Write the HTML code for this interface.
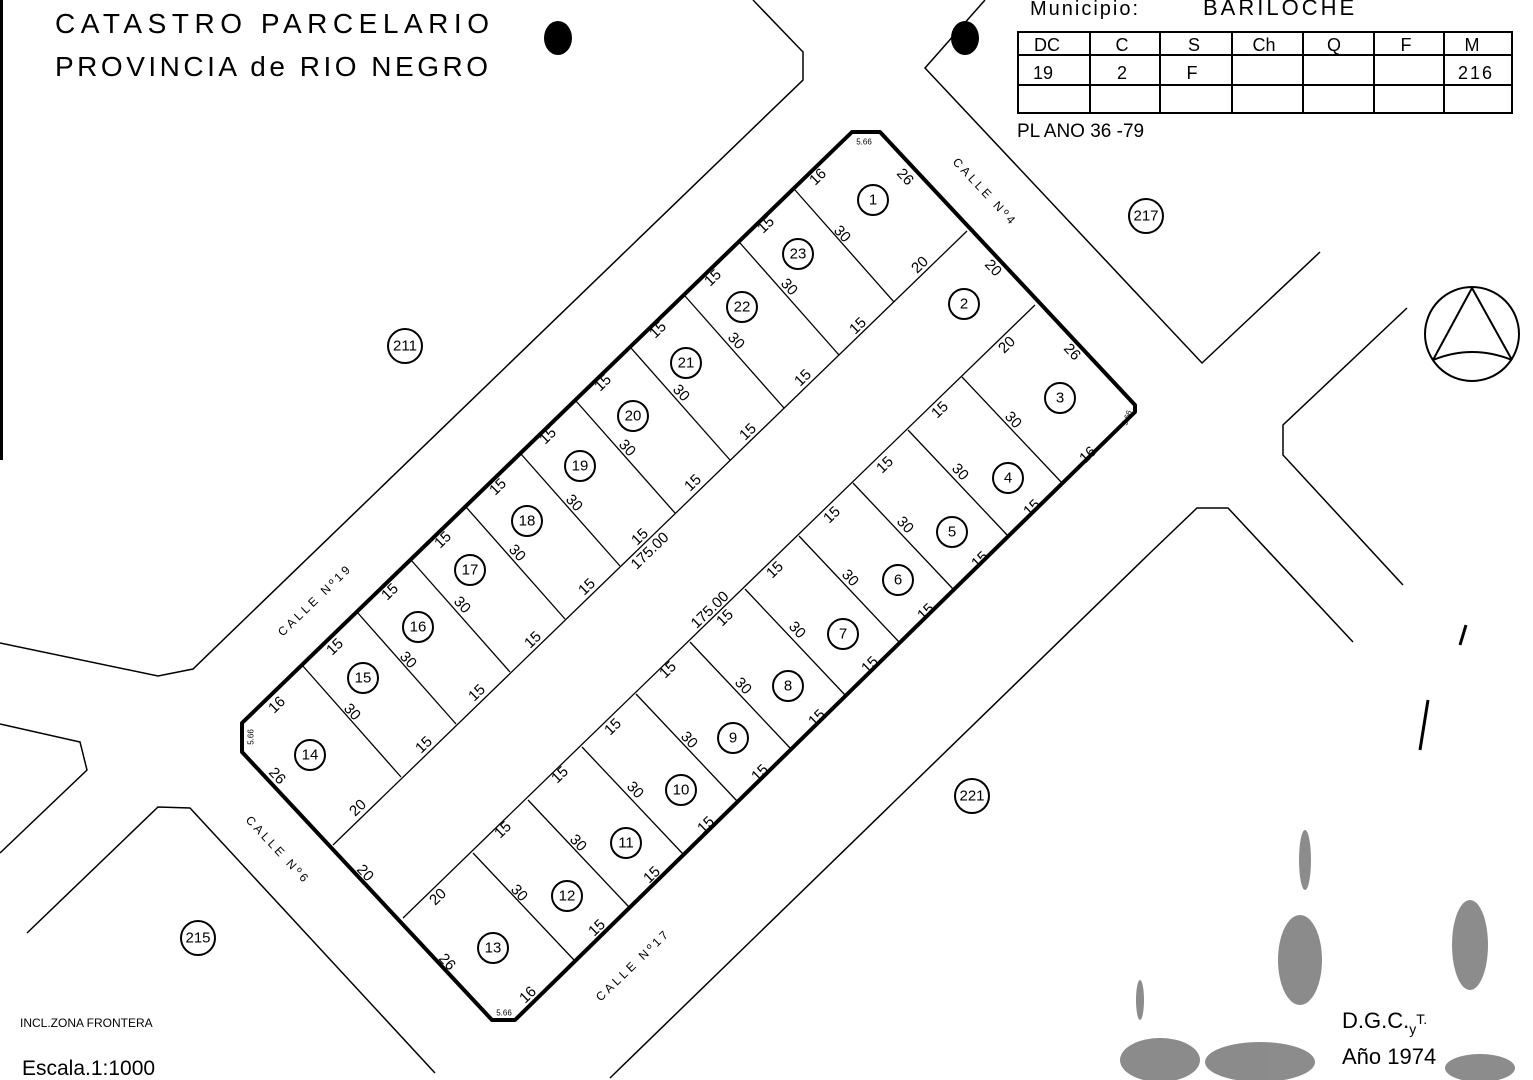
<!DOCTYPE html>
<html><head><meta charset="utf-8"><style>
html,body{margin:0;padding:0;background:#fff;}
svg{display:block;}
text{font-family:"Liberation Sans",sans-serif;fill:#000;}
.d{font-size:15px;text-anchor:middle;dominant-baseline:central;}
.n{font-size:15px;text-anchor:middle;dominant-baseline:central;}
.s{font-size:8px;text-anchor:middle;dominant-baseline:central;}
.c{font-size:12px;text-anchor:middle;dominant-baseline:central;letter-spacing:3px;}
</style></head><body>
<svg width="1533" height="1080" viewBox="0 0 1533 1080" xmlns="http://www.w3.org/2000/svg">
<rect width="1533" height="1080" fill="#fff"/>
<rect x="0" y="0" width="3" height="460" fill="#000"/>
<g fill="none" stroke="#000" stroke-width="1.5">
<polyline points="753,0 803,52 803,80 193,669 158,676 0,643"/>
<polyline points="0,724 80,742 87,770 0,853"/>
<polyline points="27,933 158,807 190,808 435,1073"/>
<polyline points="985,0 925,68 1202,363 1320,252"/>
<polyline points="1407,308 1283,425 1283,455 1403,585"/>
<polyline points="610,1078 1150,553 1197,508 1228,508 1353,642"/>
</g>
<polygon points="852,132 880,132 1135,405 1135,412 515,1020 492,1020 242,752 242,723" fill="none" stroke="#000" stroke-width="4" stroke-linejoin="round"/>
<g stroke="#000" stroke-width="1.3" fill="none">
<line x1="967" y1="231" x2="333" y2="845"/>
<line x1="1035" y1="305" x2="403" y2="918"/>
<line x1="795" y1="190" x2="894" y2="302"/>
<line x1="740" y1="243" x2="839" y2="355"/>
<line x1="685" y1="296" x2="784" y2="408"/>
<line x1="631" y1="348" x2="730" y2="460"/>
<line x1="576" y1="401" x2="675" y2="513"/>
<line x1="521" y1="454" x2="620" y2="566"/>
<line x1="466" y1="507" x2="565" y2="619"/>
<line x1="411" y1="560" x2="510" y2="672"/>
<line x1="357" y1="612" x2="456" y2="724"/>
<line x1="302" y1="665" x2="401" y2="777"/>
<line x1="962" y1="377" x2="1063" y2="484"/>
<line x1="908" y1="430" x2="1009" y2="537"/>
<line x1="853" y1="483" x2="954" y2="590"/>
<line x1="799" y1="536" x2="900" y2="643"/>
<line x1="745" y1="589" x2="846" y2="696"/>
<line x1="690" y1="642" x2="791" y2="749"/>
<line x1="636" y1="694" x2="737" y2="801"/>
<line x1="582" y1="747" x2="683" y2="854"/>
<line x1="528" y1="800" x2="629" y2="907"/>
<line x1="473" y1="853" x2="574" y2="960"/>
</g>
<g fill="none" stroke="#000" stroke-width="2">
<circle cx="873" cy="200" r="15"/><circle cx="964" cy="304" r="15"/><circle cx="1060" cy="398" r="15"/>
<circle cx="1008" cy="478" r="15"/><circle cx="952" cy="532" r="15"/><circle cx="898" cy="580" r="15"/>
<circle cx="843" cy="634" r="15"/><circle cx="788" cy="686" r="15"/><circle cx="733" cy="738" r="15"/>
<circle cx="681" cy="790" r="15"/><circle cx="626" cy="843" r="15"/><circle cx="567" cy="896" r="15"/>
<circle cx="493" cy="948" r="15"/><circle cx="310" cy="755" r="15"/><circle cx="363" cy="678" r="15"/>
<circle cx="418" cy="627" r="15"/><circle cx="470" cy="570" r="15"/><circle cx="527" cy="521" r="15"/>
<circle cx="580" cy="466" r="15"/><circle cx="633" cy="416" r="15"/><circle cx="686" cy="363" r="15"/>
<circle cx="742" cy="307" r="15"/><circle cx="798" cy="254" r="15"/>
<circle cx="405" cy="346" r="17"/><circle cx="1146" cy="216" r="17"/><circle cx="972" cy="796" r="17"/><circle cx="198" cy="938" r="17"/>
</g>
<g>
<text class="n" x="873" y="200">1</text><text class="n" x="964" y="304">2</text><text class="n" x="1060" y="398">3</text>
<text class="n" x="1008" y="478">4</text><text class="n" x="952" y="532">5</text><text class="n" x="898" y="580">6</text>
<text class="n" x="843" y="634">7</text><text class="n" x="788" y="686">8</text><text class="n" x="733" y="738">9</text>
<text class="n" x="681" y="790">10</text><text class="n" x="626" y="843">11</text><text class="n" x="567" y="896">12</text>
<text class="n" x="493" y="948">13</text><text class="n" x="310" y="755">14</text><text class="n" x="363" y="678">15</text>
<text class="n" x="418" y="627">16</text><text class="n" x="470" y="570">17</text><text class="n" x="527" y="521">18</text>
<text class="n" x="580" y="466">19</text><text class="n" x="633" y="416">20</text><text class="n" x="686" y="363">21</text>
<text class="n" x="742" y="307">22</text><text class="n" x="798" y="254">23</text>
<text class="n" x="405" y="346">211</text><text class="n" x="1146" y="216">217</text><text class="n" x="972" y="796">221</text><text class="n" x="198" y="938">215</text>
</g>
<g>
<text class="d" transform="translate(818,177) rotate(-44)">16</text>
<text class="d" transform="translate(766,225) rotate(-44)">15</text>
<text class="d" transform="translate(713,278) rotate(-44)">15</text>
<text class="d" transform="translate(658,330) rotate(-44)">15</text>
<text class="d" transform="translate(603,383) rotate(-44)">15</text>
<text class="d" transform="translate(548,436) rotate(-44)">15</text>
<text class="d" transform="translate(498,487) rotate(-44)">15</text>
<text class="d" transform="translate(443,540) rotate(-44)">15</text>
<text class="d" transform="translate(390,592) rotate(-44)">15</text>
<text class="d" transform="translate(335,647) rotate(-44)">15</text>
<text class="d" transform="translate(277,705) rotate(-44)">16</text>
<text class="d" transform="translate(920,265) rotate(-44)">20</text>
<text class="d" transform="translate(858,326) rotate(-44)">15</text>
<text class="d" transform="translate(803,378) rotate(-44)">15</text>
<text class="d" transform="translate(748,432) rotate(-44)">15</text>
<text class="d" transform="translate(693,483) rotate(-44)">15</text>
<text class="d" transform="translate(640,537) rotate(-44)">15</text>
<text class="d" transform="translate(587,587) rotate(-44)">15</text>
<text class="d" transform="translate(533,640) rotate(-44)">15</text>
<text class="d" transform="translate(477,693) rotate(-44)">15</text>
<text class="d" transform="translate(424,745) rotate(-44)">15</text>
<text class="d" transform="translate(358,808) rotate(-44)">20</text>
<text class="d" transform="translate(650,551) rotate(-44)">175.00</text>
<text class="d" transform="translate(710,610) rotate(-44)">175.00</text>
<text class="d" transform="translate(1007,345) rotate(-44)">20</text>
<text class="d" transform="translate(940,410) rotate(-44)">15</text>
<text class="d" transform="translate(885,465) rotate(-44)">15</text>
<text class="d" transform="translate(832,515) rotate(-44)">15</text>
<text class="d" transform="translate(775,570) rotate(-44)">15</text>
<text class="d" transform="translate(725,618) rotate(-44)">15</text>
<text class="d" transform="translate(668,670) rotate(-44)">15</text>
<text class="d" transform="translate(613,727) rotate(-44)">15</text>
<text class="d" transform="translate(560,775) rotate(-44)">15</text>
<text class="d" transform="translate(503,830) rotate(-44)">15</text>
<text class="d" transform="translate(438,897) rotate(-44)">20</text>
<text class="d" transform="translate(1088,455) rotate(-44)">16</text>
<text class="d" transform="translate(1032,508) rotate(-44)">15</text>
<text class="d" transform="translate(980,560) rotate(-44)">15</text>
<text class="d" transform="translate(926,612) rotate(-44)">15</text>
<text class="d" transform="translate(870,665) rotate(-44)">15</text>
<text class="d" transform="translate(817,718) rotate(-44)">15</text>
<text class="d" transform="translate(760,773) rotate(-44)">15</text>
<text class="d" transform="translate(706,825) rotate(-44)">15</text>
<text class="d" transform="translate(652,875) rotate(-44)">15</text>
<text class="d" transform="translate(597,928) rotate(-44)">15</text>
<text class="d" transform="translate(528,995) rotate(-44)">16</text>
</g>
<g>
<text class="d" transform="translate(842,234) rotate(47)">30</text>
<text class="d" transform="translate(789,287) rotate(47)">30</text>
<text class="d" transform="translate(736,341) rotate(47)">30</text>
<text class="d" transform="translate(681,393) rotate(47)">30</text>
<text class="d" transform="translate(627,448) rotate(47)">30</text>
<text class="d" transform="translate(574,503) rotate(47)">30</text>
<text class="d" transform="translate(517,553) rotate(47)">30</text>
<text class="d" transform="translate(462,605) rotate(47)">30</text>
<text class="d" transform="translate(408,660) rotate(47)">30</text>
<text class="d" transform="translate(352,712) rotate(47)">30</text>
<text class="d" transform="translate(1013,420) rotate(47)">30</text>
<text class="d" transform="translate(960,472) rotate(47)">30</text>
<text class="d" transform="translate(905,525) rotate(47)">30</text>
<text class="d" transform="translate(850,578) rotate(47)">30</text>
<text class="d" transform="translate(797,630) rotate(47)">30</text>
<text class="d" transform="translate(743,686) rotate(47)">30</text>
<text class="d" transform="translate(689,740) rotate(47)">30</text>
<text class="d" transform="translate(635,790) rotate(47)">30</text>
<text class="d" transform="translate(578,843) rotate(47)">30</text>
<text class="d" transform="translate(519,893) rotate(47)">30</text>
<text class="d" transform="translate(905,177) rotate(47)">26</text>
<text class="d" transform="translate(993,268) rotate(47)">20</text>
<text class="d" transform="translate(1072,352) rotate(47)">26</text>
<text class="d" transform="translate(277,776) rotate(47)">26</text>
<text class="d" transform="translate(365,873) rotate(47)">20</text>
<text class="d" transform="translate(447,962) rotate(47)">26</text>
</g>
<text class="s" x="864" y="142">5.66</text>
<text class="s" x="504" y="1013">5.66</text>
<text class="s" transform="translate(251,737) rotate(-90)">5.66</text>
<text class="s" transform="translate(1127,418) rotate(-70)">5.66</text>
<text class="c" transform="translate(315,600) rotate(-44)">CALLE Nº19</text>
<text class="c" transform="translate(985,192) rotate(47)">CALLE Nº4</text>
<text class="c" transform="translate(278,850) rotate(47)">CALLE Nº6</text>
<text class="c" transform="translate(633,965) rotate(-44)">CALLE Nº17</text>
<text x="55" y="33" font-size="28" textLength="434" lengthAdjust="spacing">CATASTRO PARCELARIO</text>
<text x="55" y="76" font-size="28" textLength="433" lengthAdjust="spacing">PROVINCIA de RIO NEGRO</text>
<ellipse cx="558" cy="38" rx="14" ry="17" fill="#000"/>
<ellipse cx="965" cy="38" rx="14" ry="17" fill="#000"/>
<text x="1030" y="15" font-size="20" letter-spacing="2">Municipio:</text>
<text x="1203" y="15" font-size="22" letter-spacing="3">BARILOCHE</text>
<g stroke="#000" stroke-width="2" fill="none">
<rect x="1018" y="32" width="494" height="81"/>
<line x1="1018" y1="55" x2="1512" y2="55"/><line x1="1018" y1="85" x2="1512" y2="85"/>
<line x1="1090" y1="32" x2="1090" y2="113"/><line x1="1160" y1="32" x2="1160" y2="113"/>
<line x1="1232" y1="32" x2="1232" y2="113"/><line x1="1303" y1="32" x2="1303" y2="113"/>
<line x1="1374" y1="32" x2="1374" y2="113"/><line x1="1444" y1="32" x2="1444" y2="113"/>
</g>
<g font-size="18" text-anchor="middle">
<text x="1047" y="51">DC</text><text x="1122" y="51">C</text><text x="1194" y="51">S</text><text x="1264" y="51">Ch</text>
<text x="1334" y="51">Q</text><text x="1406" y="51">F</text><text x="1472" y="51">M</text>
<text x="1043" y="79">19</text><text x="1122" y="79">2</text><text x="1192" y="79">F</text><text x="1476" y="79" letter-spacing="2">216</text>
</g>
<text x="1017" y="137" font-size="19">PL ANO  36 -79</text>
<g stroke="#000" stroke-width="2" fill="none">
<circle cx="1472" cy="334" r="47"/>
<polyline points="1433,360 1472,288 1512,360"/>
<path d="M1433,360 Q1472,344 1512,360"/>
</g>
<text x="20" y="1027" font-size="12">INCL.ZONA FRONTERA</text>
<text x="22" y="1075" font-size="21">Escala.1:1000</text>
<text x="1342" y="1028" font-size="22">D.G.C.<tspan font-size="14" dy="6">y</tspan><tspan font-size="14" dy="-10">T.</tspan></text>
<text x="1342" y="1064" font-size="22">Año 1974</text>
<g fill="#000" opacity="0.45">
<ellipse cx="1300" cy="960" rx="22" ry="45"/>
<ellipse cx="1305" cy="860" rx="6" ry="30"/>
<ellipse cx="1470" cy="945" rx="18" ry="45"/>
<ellipse cx="1160" cy="1060" rx="40" ry="22"/>
<ellipse cx="1260" cy="1062" rx="55" ry="20"/>
<ellipse cx="1480" cy="1068" rx="35" ry="14"/>
<ellipse cx="1140" cy="1000" rx="4" ry="20"/>
</g>
<g stroke="#000" stroke-width="3">
<line x1="1466" y1="625" x2="1460" y2="645"/>
<line x1="1428" y1="700" x2="1420" y2="750"/>
</g>
</svg>
</body></html>
